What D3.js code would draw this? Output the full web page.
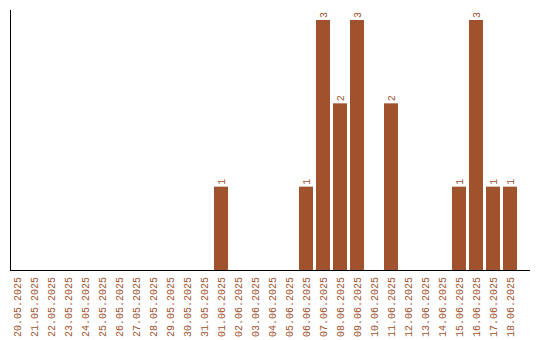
<!DOCTYPE html>
<html><head><meta charset="utf-8">
<script src="https://cdn.jsdelivr.net/npm/d3@7"></script>
<style>body{margin:0;background:#fff}svg{display:block}</style>
</head><body>
<script>
const dates = ["20.05.2025","21.05.2025","22.05.2025","23.05.2025","24.05.2025","25.05.2025","26.05.2025","27.05.2025","28.05.2025","29.05.2025","30.05.2025","31.05.2025","01.06.2025","02.06.2025","03.06.2025","04.06.2025","05.06.2025","06.06.2025","07.06.2025","08.06.2025","09.06.2025","10.06.2025","11.06.2025","12.06.2025","13.06.2025","14.06.2025","15.06.2025","16.06.2025","17.06.2025","18.06.2025"];
const counts = [0,0,0,0,0,0,0,0,0,0,0,0,1,0,0,0,0,1,3,2,3,0,2,0,0,0,1,3,1,1];

const W = 540, H = 340;
const color = "#a0522d";
const font = "Liberation Mono, Courier New, monospace";
const svg = d3.select("body").append("svg").attr("width", W).attr("height", H);

const x = d3.scaleBand().domain(dates).range([8.5, 518.5]).paddingInner(3/17).paddingOuter(1.5/17);
const y = d3.scaleLinear().domain([0, 3.12]).range([270, 10]);

const data = dates.map((d,i)=>({d, v: counts[i]}));

svg.selectAll("rect.bar").data(data.filter(e=>e.v>0)).join("rect")
  .attr("class","bar")
  .attr("x", e=>x(e.d)).attr("width", x.bandwidth())
  .attr("y", e=>y(e.v)).attr("height", e=>y(0)-y(e.v))
  .attr("fill", color);

svg.selectAll("text.val").data(data.filter(e=>e.v>0)).join("text")
  .attr("class","val")
  .attr("transform", e=>`translate(${x(e.d)+x.bandwidth()/2},${y(e.v)-2}) rotate(-90)`)
  .attr("dy","0.35em")
  .attr("font-family",font).attr("font-size",10)
  .attr("fill",color).text(e=>e.v);

svg.selectAll("text.lbl").data(data).join("text")
  .attr("class","lbl")
  .attr("transform", e=>`translate(${x(e.d)+x.bandwidth()/2},277) rotate(-90)`)
  .attr("text-anchor","end").attr("dy","0.35em")
  .attr("font-family",font).attr("font-size",10)
  .attr("fill",color).text(e=>e.d);

svg.append("line").attr("x1",10.5).attr("x2",10.5).attr("y1",10).attr("y2",270)
  .attr("stroke","#000").attr("stroke-width",1);
svg.append("line").attr("x1",10).attr("x2",530).attr("y1",270.5).attr("y2",270.5)
  .attr("stroke","#000").attr("stroke-width",1);
</script>
</body></html>
